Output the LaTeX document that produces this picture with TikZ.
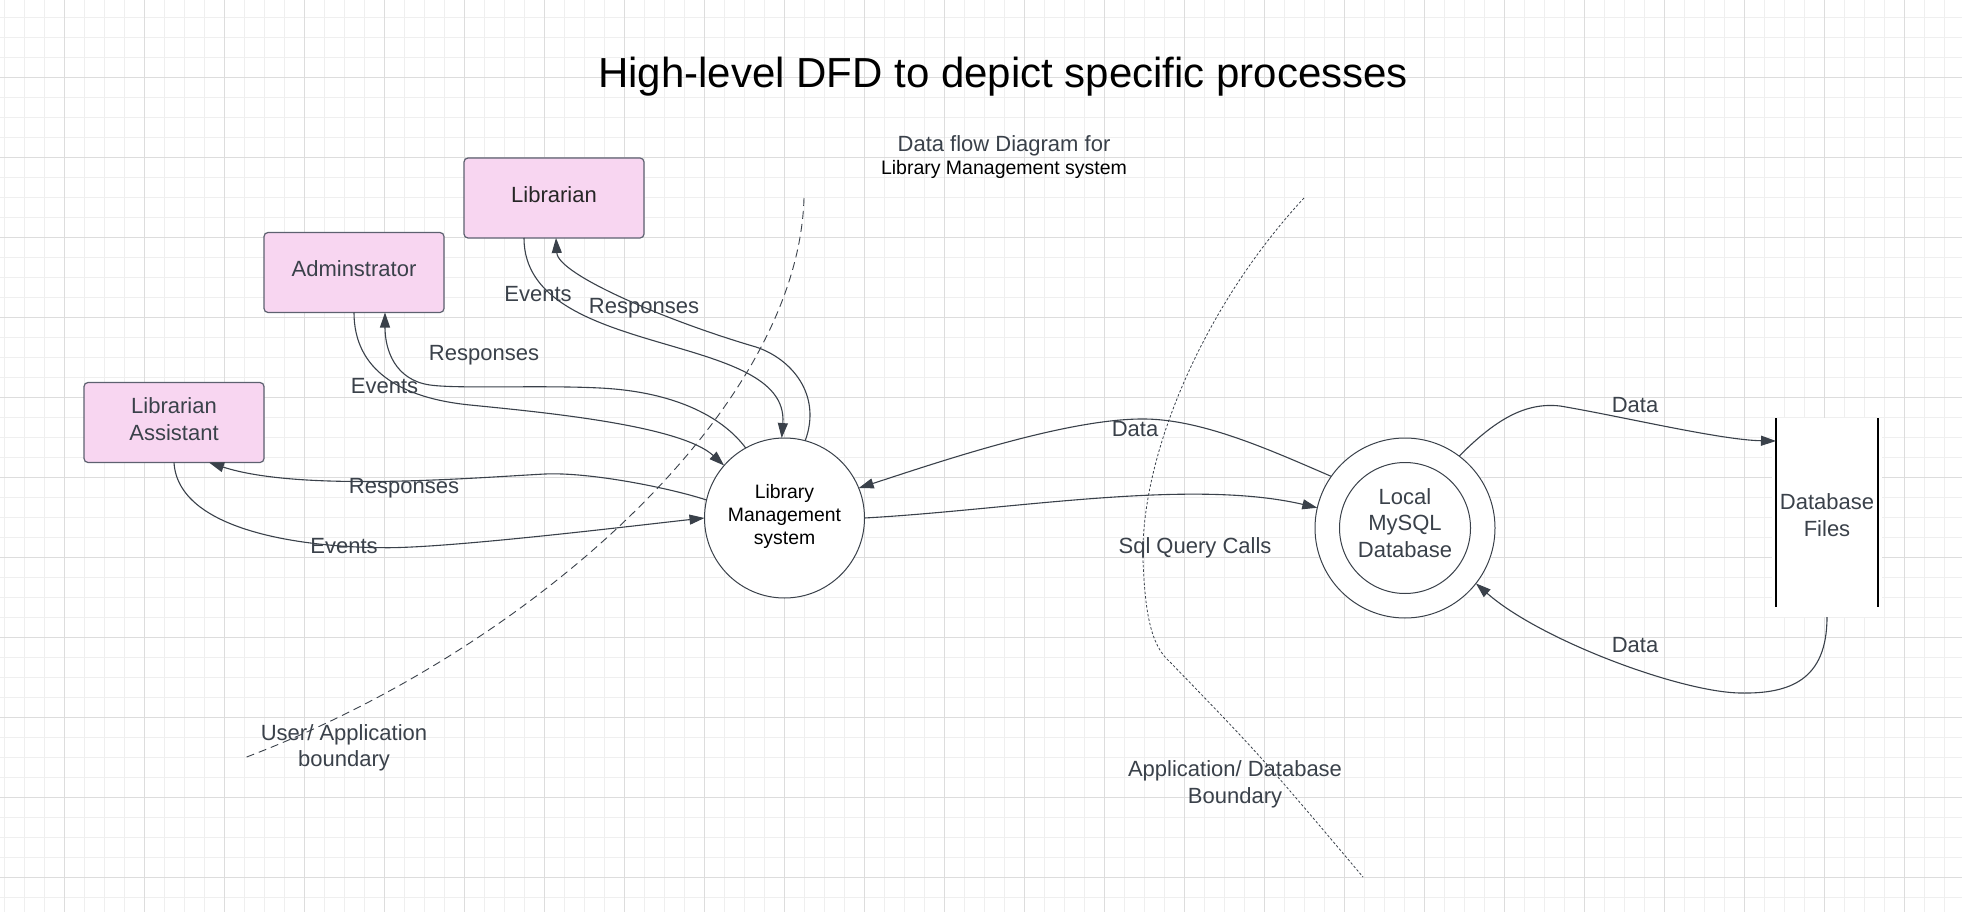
\documentclass[tikz,border=0pt]{standalone}
\usepackage{fontspec}
\setmainfont{Liberation Sans}
\usetikzlibrary{arrows.meta}
\definecolor{ink}{HTML}{3A414A}
\definecolor{pinkfill}{HTML}{F8D6F1}
\definecolor{boxline}{HTML}{5D6170}
\definecolor{gridminor}{HTML}{EFEFEF}
\definecolor{gridmajor}{HTML}{DDDDDD}
\begin{document}
\begin{tikzpicture}[x=1pt,y=-1pt,
  every node/.style={inner sep=0pt, outer sep=0pt},
  lbl/.style={text=ink, font=\fontsize{22}{26.5}\selectfont, anchor=base},
  actor/.style={draw=boxline, line width=1.2pt, fill=pinkfill, rounded corners=4pt,
    minimum width=180pt, minimum height=80pt, align=center, text=ink, text depth=7pt,
    font=\fontsize{22}{26.5}\selectfont},
  flow/.style={draw=ink, line width=1.1pt, -{Triangle[length=15pt,width=10pt]}},
  procnode/.style={circle, draw=ink, line width=1pt, fill=white, align=center},
]
\useasboundingbox (0,0) rectangle (1962,912);
\fill[white] (0,0) rectangle (1962,912);
% grid
\foreach \i in {0,...,97} {\draw[gridminor, line width=1pt] ({4.3+20*\i},0) -- ({4.3+20*\i},912);}
\foreach \i in {0,...,44} {\draw[gridminor, line width=1pt] (0,{17.3+20*\i}) -- (1962,{17.3+20*\i});}
\foreach \i in {0,...,23} {\draw[gridmajor, line width=1pt] ({64.3+80*\i},0) -- ({64.3+80*\i},912);}
\foreach \i in {0,...,10} {\draw[gridmajor, line width=1pt] (0,{77.3+80*\i}) -- (1962,{77.3+80*\i});}

% titles
\node[anchor=base, font=\fontsize{42}{50}\selectfont, text=black] (title) at (1003,88) {High-level DFD to depict specific processes};
\node[lbl] (sub1) at (1004,151.5) {Data flow Diagram for};
\node[anchor=base, font=\fontsize{19.5}{23}\selectfont, text=black] (sub2) at (1004,175) {Library Management system};

% external entities
\node[actor, text=black!85] (lib) at (554,198) {Librarian};
\node[actor] (admin) at (354,272.5) {Adminstrator};
\node[actor] (asst) at (174,422.5) {Librarian\\Assistant};

% processes
\node[procnode, minimum size=160pt, text=black, text depth=7pt, font=\fontsize{19.4}{23.3}\selectfont] (lms) at (784.5,518) {Library\\Management\\system};
\node[procnode, minimum size=180pt] (db) at (1405,528) {};
\node[procnode, minimum size=131pt, text=ink, text depth=10pt, font=\fontsize{22}{26.7}\selectfont] (dbin) at (1405,528) {Local\\MySQL\\Database};

% data store
\node[fill=white, minimum width=110pt, minimum height=199pt, align=center, text=ink, text depth=5pt, font=\fontsize{22}{26.5}\selectfont] (files) at (1827,517.5) {Database\\Files};
\draw[black, line width=2.6pt] ([xshift=4pt]files.north west) -- ([xshift=4pt,yshift=10pt]files.south west);
\draw[black, line width=2.6pt] ([xshift=-4pt]files.north east) -- ([xshift=-4pt,yshift=10pt]files.south east);

% boundaries
\draw[ink, line width=0.9pt, dash pattern=on 8pt off 5pt] (804,198) .. controls (798,410) and (530,650) .. (244,758);
\draw[ink, line width=0.8pt, dash pattern=on 2.5pt off 2pt] (1304,198) .. controls (1200,310) and (1140,460) .. (1143,560) .. controls (1145,610) and (1150,645) .. (1170,662) .. controls (1260,755) .. (1363,877);

% Librarian flows
\draw[flow] ([xshift=-30pt]lib.south) .. controls (524,360) and (790,330) .. (lms.92);
\draw[flow] (lms.75) .. controls (822,395) and (792,359) .. (756,347) .. controls (670,322) and (558,275) .. ([xshift=2pt]lib.south);

% Adminstrator flows
\draw[flow] (admin.south) .. controls (354,370) and (400,398) .. (470,405) .. controls (540,412) and (680,425) .. (lms.139);
\draw[flow] (lms.119) .. controls (725,420) and (680,392) .. (600,388) .. controls (540,385) and (458,389) .. (430,385) .. controls (395,380) and (385,350) .. ([xshift=31pt]admin.south);

% Assistant flows
\draw[flow] (lms.167) .. controls (670,488) and (590,472) .. (545,474) .. controls (470,478) and (300,492) .. ([xshift=35pt]asst.south);
\draw[flow] (asst.south) .. controls (178,530) and (300,548) .. (390,547.7) .. controls (460,547) and (640,525) .. (lms.west);

% application / database flows
\draw[flow] (db.145) .. controls (1270,450) and (1200,418) .. (1140,419) .. controls (1060,420) and (930,465) .. (lms.22);
\draw[flow] (lms.east) .. controls (1010,510) and (1190,478) .. (db.167);
\draw[flow] (db.53) .. controls (1495,420) and (1525,402) .. (1560,406) .. controls (1620,416) and (1720,440) .. ([xshift=4pt,yshift=-23pt]files.north west);
\draw[flow] (files.south) .. controls (1827,680) and (1790,694) .. (1740,693) .. controls (1680,692) and (1540,640) .. (db.-38);

% labels
\node[lbl] (l1) at (538,301.5) {Events};
\node[lbl] (l2) at (644,313.5) {Responses};
\node[lbl] (l3) at (484,360.5) {Responses};
\node[lbl] (l4) at (384.5,393.5) {Events};
\node[lbl] (l5) at (404,493.5) {Responses};
\node[lbl] (l6) at (344,553.3) {Events};
\node[lbl] (l7) at (1135,436.7) {Data};
\node[lbl] (l8) at (1195,553.3) {Sql Query Calls};
\node[lbl] (l9) at (1635,412.7) {Data};
\node[lbl] (l10) at (1635,652.7) {Data};
\node[lbl] (b1a) at (344,740) {User/ Application};
\node[lbl] (b1b) at (344,766.5) {boundary};
\node[lbl] (b2a) at (1235,776.7) {Application/ Database};
\node[lbl] (b2b) at (1235,803.3) {Boundary};
\end{tikzpicture}
\end{document}
